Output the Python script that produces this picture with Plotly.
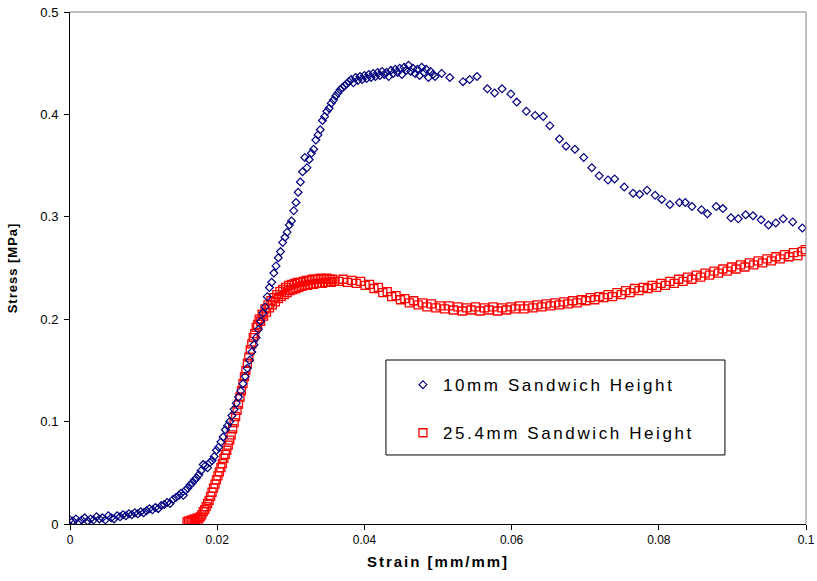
import plotly.graph_objects as go

# ---- 10mm Sandwich Height (blue diamonds) ----
blue_x = [
    0.0000, 0.0004, 0.0008, 0.0012, 0.0016, 0.0020, 0.0024, 0.0028, 0.0032, 0.0036,
    0.0040, 0.0044, 0.0048, 0.0052, 0.0056, 0.0060, 0.0064, 0.0068, 0.0072, 0.0076,
    0.0080, 0.0084, 0.0088, 0.0092, 0.0096, 0.0100, 0.0104, 0.0108, 0.0112, 0.0116,
    0.0120, 0.0124, 0.0128, 0.0132, 0.0136, 0.0140, 0.0144, 0.0148,
    0.0151, 0.0154, 0.0157, 0.0160, 0.0163, 0.0166, 0.0169, 0.0172, 0.0175, 0.0178,
    0.0181, 0.0184, 0.0187, 0.0190, 0.0193, 0.0196, 0.0199, 0.0202, 0.0205, 0.0208,
    0.0211, 0.0214, 0.0217, 0.0220, 0.0223, 0.0226, 0.0229, 0.0232, 0.0235, 0.0238,
    0.0241, 0.0244, 0.0247, 0.0250,
    0.0253, 0.0256, 0.0259, 0.0262, 0.0265, 0.0268, 0.0271, 0.0274, 0.0277, 0.0280,
    0.0283, 0.0286, 0.0289, 0.0292, 0.0295, 0.0298, 0.0301, 0.0304, 0.0307, 0.0310,
    0.0313, 0.0316, 0.0319, 0.0322, 0.0325, 0.0328, 0.0331, 0.0334, 0.0337, 0.0340,
    0.0343, 0.0346, 0.0349, 0.0352, 0.0355, 0.0358, 0.0361,
    0.0364, 0.0367, 0.0370, 0.0373, 0.0376, 0.0379, 0.0382, 0.0385, 0.0388, 0.0391,
    0.0394, 0.0397, 0.0400, 0.0403, 0.0406, 0.0409, 0.0412, 0.0415, 0.0418, 0.0421,
    0.0424, 0.0427, 0.0430, 0.0433, 0.0436, 0.0439, 0.0442, 0.0445, 0.0448, 0.0451,
    0.0454, 0.0457, 0.0460, 0.0463, 0.0466, 0.0469, 0.0472, 0.0475, 0.0478, 0.0481,
    0.0484, 0.0487, 0.0490, 0.0493, 0.0496,
    0.0505, 0.0516, 0.0534, 0.0543, 0.0553, 0.0567, 0.0577, 0.0587, 0.0599, 0.0607,
    0.0620, 0.0632, 0.0643, 0.0652, 0.0665, 0.0674, 0.0686, 0.0698, 0.0709, 0.0719,
    0.0731, 0.0740, 0.0753, 0.0765, 0.0774, 0.0784, 0.0795, 0.0804, 0.0815, 0.0828,
    0.0836, 0.0845, 0.0858, 0.0866, 0.0878, 0.0887, 0.0898, 0.0908, 0.0918, 0.0928,
    0.0939, 0.0949, 0.0959, 0.0969, 0.0982, 0.0995,
]
blue_y = [
    0.004, 0.003, 0.005, 0.002, 0.004, 0.006, 0.003, 0.005, 0.004, 0.007,
    0.005, 0.006, 0.004, 0.008, 0.006, 0.005, 0.008, 0.007, 0.009, 0.008,
    0.010, 0.009, 0.011, 0.010, 0.012, 0.011, 0.013, 0.015, 0.014, 0.016,
    0.015, 0.018, 0.019, 0.021, 0.020, 0.024, 0.026, 0.028,
    0.030, 0.028, 0.033, 0.035, 0.038, 0.040, 0.043, 0.045, 0.048, 0.052,
    0.058, 0.057, 0.055, 0.060, 0.062, 0.066, 0.072, 0.075, 0.080, 0.085,
    0.092, 0.096, 0.100, 0.106, 0.112, 0.118, 0.124, 0.130, 0.137, 0.144,
    0.152, 0.160, 0.168, 0.175,
    0.182, 0.190, 0.198, 0.206, 0.212, 0.222, 0.231, 0.236, 0.245, 0.252,
    0.260, 0.266, 0.275, 0.280, 0.285, 0.292, 0.296, 0.306, 0.314, 0.324,
    0.334, 0.344, 0.358, 0.348, 0.356, 0.362, 0.366, 0.375, 0.380, 0.385,
    0.394, 0.398, 0.403, 0.406, 0.411, 0.414, 0.418,
    0.421, 0.424, 0.426, 0.428, 0.430, 0.432, 0.434, 0.431, 0.436, 0.433,
    0.437, 0.434, 0.438, 0.435, 0.439, 0.436, 0.440, 0.437, 0.441, 0.438,
    0.442, 0.439, 0.441, 0.437, 0.443, 0.440, 0.444, 0.441, 0.445, 0.439,
    0.446, 0.443, 0.448, 0.442, 0.445, 0.440, 0.444, 0.438, 0.446, 0.441,
    0.444, 0.436, 0.442, 0.439, 0.437,
    0.440, 0.436, 0.432, 0.434, 0.437, 0.425, 0.421, 0.425, 0.420, 0.412,
    0.403, 0.399, 0.398, 0.389, 0.376, 0.369, 0.366, 0.358, 0.348, 0.340,
    0.336, 0.337, 0.329, 0.323, 0.322, 0.326, 0.321, 0.317, 0.312, 0.314,
    0.314, 0.310, 0.307, 0.303, 0.310, 0.308, 0.299, 0.298, 0.302, 0.301,
    0.297, 0.292, 0.294, 0.298, 0.295, 0.289,
]

# ---- 25.4mm Sandwich Height (red squares) ----
red_x = [
    0.0159, 0.0161, 0.0163, 0.0165, 0.0167, 0.0169, 0.0171, 0.0173, 0.0175, 0.0177,
    0.0179, 0.0181, 0.0183, 0.0185, 0.0187, 0.0189, 0.0191, 0.0193, 0.0195, 0.0197,
    0.0199,
    0.0201, 0.0203, 0.0205, 0.0207, 0.0209, 0.0211, 0.0213, 0.0215, 0.0217, 0.0219,
    0.0221, 0.0223, 0.0225, 0.0227, 0.0229, 0.0231, 0.0233, 0.0235, 0.0237, 0.0239,
    0.0241, 0.0243, 0.0245, 0.0247, 0.0249,
    0.0251, 0.0253, 0.0255, 0.0257, 0.0259, 0.0261, 0.0263, 0.0265, 0.0267, 0.0269,
    0.0271, 0.0273, 0.0275, 0.0277, 0.0279, 0.0281, 0.0283, 0.0285, 0.0287, 0.0289,
    0.0291, 0.0293, 0.0295, 0.0297, 0.0299, 0.0301, 0.0303, 0.0305, 0.0307, 0.0309,
    0.0311, 0.0313, 0.0315, 0.0317, 0.0319, 0.0321, 0.0323, 0.0325, 0.0327, 0.0329,
    0.0331, 0.0333, 0.0335, 0.0337, 0.0339, 0.0341, 0.0343, 0.0345, 0.0347, 0.0349,
    0.0351, 0.0353, 0.0355, 0.0357, 0.0359,
    0.0365, 0.0371, 0.0377, 0.0383, 0.0389, 0.0395, 0.0401, 0.0407, 0.0413, 0.0419,
    0.0425, 0.0431, 0.0437, 0.0443, 0.0449, 0.0455, 0.0461, 0.0467, 0.0473, 0.0479,
    0.0485, 0.0491, 0.0497, 0.0503, 0.0509, 0.0515, 0.0521, 0.0527, 0.0533, 0.0539,
    0.0545, 0.0551, 0.0557, 0.0563, 0.0569, 0.0575, 0.0581, 0.0587, 0.0593, 0.0599,
    0.0605, 0.0611, 0.0617, 0.0623, 0.0629, 0.0635, 0.0641, 0.0647, 0.0653, 0.0659,
    0.0665, 0.0671, 0.0677, 0.0683, 0.0689, 0.0695, 0.0701, 0.0707, 0.0713, 0.0719,
    0.0725, 0.0731, 0.0737, 0.0743, 0.0749, 0.0755, 0.0761, 0.0767, 0.0773, 0.0779,
    0.0785, 0.0791, 0.0797, 0.0803, 0.0809, 0.0815, 0.0821, 0.0827, 0.0833, 0.0839,
    0.0845, 0.0851, 0.0857, 0.0863, 0.0869, 0.0875, 0.0881, 0.0887, 0.0893, 0.0899,
    0.0905, 0.0911, 0.0917, 0.0923, 0.0929, 0.0935, 0.0941, 0.0947, 0.0953, 0.0959,
    0.0965, 0.0971, 0.0977, 0.0983, 0.0989, 0.0995, 0.0999,
]
red_y = [
    0.002, 0.003, 0.002, 0.004, 0.003, 0.005, 0.004, 0.006, 0.005, 0.007,
    0.009, 0.012, 0.014, 0.017, 0.020, 0.023, 0.027, 0.031, 0.035, 0.039,
    0.043,
    0.047, 0.051, 0.055, 0.059, 0.064, 0.068, 0.072, 0.077, 0.082, 0.087,
    0.093, 0.099, 0.105, 0.111, 0.117, 0.124, 0.130, 0.137, 0.144, 0.150,
    0.157, 0.163, 0.170, 0.176, 0.182,
    0.186, 0.192, 0.195, 0.200, 0.198, 0.205, 0.203, 0.210, 0.207, 0.214,
    0.211, 0.218, 0.214, 0.221, 0.217, 0.224, 0.220, 0.227, 0.222, 0.229,
    0.224, 0.231, 0.226, 0.233, 0.228, 0.234, 0.229, 0.235, 0.230, 0.236,
    0.231, 0.236, 0.232, 0.237, 0.233, 0.238, 0.233, 0.238, 0.234, 0.239,
    0.234, 0.239, 0.235, 0.239, 0.235, 0.240, 0.235, 0.239, 0.236, 0.240,
    0.236, 0.239, 0.236, 0.239, 0.237,
    0.237, 0.239, 0.236, 0.238, 0.235, 0.237, 0.233, 0.234, 0.230, 0.231,
    0.226, 0.227, 0.222, 0.223, 0.219, 0.220, 0.216, 0.218, 0.214, 0.216,
    0.212, 0.215, 0.211, 0.213, 0.210, 0.213, 0.209, 0.212, 0.208, 0.211,
    0.209, 0.212, 0.208, 0.211, 0.209, 0.212, 0.208, 0.211, 0.209, 0.212,
    0.210, 0.213, 0.210, 0.213, 0.211, 0.214, 0.212, 0.215, 0.213, 0.216,
    0.214, 0.217, 0.215, 0.218, 0.216, 0.219, 0.218, 0.221, 0.219, 0.222,
    0.221, 0.224, 0.222, 0.226, 0.224, 0.228, 0.226, 0.230, 0.228, 0.231,
    0.230, 0.233, 0.231, 0.235, 0.233, 0.237, 0.235, 0.239, 0.237, 0.241,
    0.239, 0.243, 0.241, 0.245, 0.243, 0.247, 0.245, 0.249, 0.247, 0.251,
    0.249, 0.253, 0.251, 0.255, 0.253, 0.257, 0.255, 0.259, 0.257, 0.261,
    0.259, 0.263, 0.261, 0.265, 0.262, 0.266, 0.268,
]

x_ticks = [0, 0.02, 0.04, 0.06, 0.08, 0.1]
x_tick_labels = ["0", "0.02", "0.04", "0.06", "0.08", "0.1"]
y_ticks = [0, 0.1, 0.2, 0.3, 0.4, 0.5]
y_tick_labels = ["0", "0.1", "0.2", "0.3", "0.4", "0.5"]

FONT = "Liberation Sans, Arial, sans-serif"


def spaced(text, px):
    return f'<span style="letter-spacing:{px}px">{text}</span>'


fig = go.Figure()
fig.add_trace(go.Scatter(
    x=red_x, y=red_y, mode="markers", name=spaced("25.4mm Sandwich Height", 2.6),
    legendgroup="b", legendrank=2,
    marker=dict(symbol="square-open", size=8, color="#FF0000",
                line=dict(width=1.3, color="#FF0000")),
))
fig.add_trace(go.Scatter(
    x=blue_x, y=blue_y, mode="markers", name=spaced("10mm Sandwich Height", 2.6),
    legendgroup="a", legendrank=1,
    marker=dict(symbol="diamond-open", size=6, color="#000080",
                line=dict(width=1.2, color="#000080")),
))

fig.update_layout(
    width=817, height=581,
    margin=dict(l=70, r=11, t=12, b=57, autoexpand=False),
    paper_bgcolor="white", plot_bgcolor="white",
    font=dict(family=FONT, color="black", size=12),
    showlegend=True,
    legend=dict(
        x=0.4524, y=0.3064, xanchor="left", yanchor="top",
        bgcolor="rgba(0,0,0,0)", borderwidth=0,
        font=dict(family=FONT, size=17, color="black"),
        traceorder="grouped", tracegroupgap=23,
    ),
    xaxis=dict(
        range=[0, 0.1], tickvals=x_ticks, ticktext=x_tick_labels,
        showgrid=False, zeroline=False, automargin=False,
        showline=True, linecolor="black", linewidth=1,
        ticks="outside", ticklen=5, tickcolor="black",
        tickfont=dict(size=12),
        title=dict(text=spaced("<b>Strain [mm/mm]</b>", 2), font=dict(size=15), standoff=10),
    ),
    yaxis=dict(
        range=[0, 0.5], tickvals=y_ticks, ticktext=y_tick_labels,
        showgrid=False, zeroline=False, automargin=False,
        showline=True, linecolor="black", linewidth=1,
        ticks="outside", ticklen=5, tickcolor="black",
        tickfont=dict(size=13), ticklabelstandoff=3,
        title=dict(text=spaced("<b>Stress [MPa]</b>", 1), font=dict(size=13), standoff=19),
    ),
    shapes=[
        dict(type="line", xref="paper", yref="paper", x0=0, x1=1, y0=1, y1=1,
             line=dict(color="#808080", width=1)),
        dict(type="line", xref="paper", yref="paper", x0=1, x1=1, y0=0, y1=1,
             line=dict(color="#808080", width=1)),
        dict(type="rect", xref="paper", yref="paper",
             x0=0.4293, x1=0.8899, y0=0.1348, y1=0.3203,
             line=dict(color="black", width=1), fillcolor="rgba(0,0,0,0)"),
    ],
)

fig.write_html(
    "out.html",
    config={"displayModeBar": False},
    post_script="document.body.style.margin='0';document.body.style.overflow='hidden';",
)
